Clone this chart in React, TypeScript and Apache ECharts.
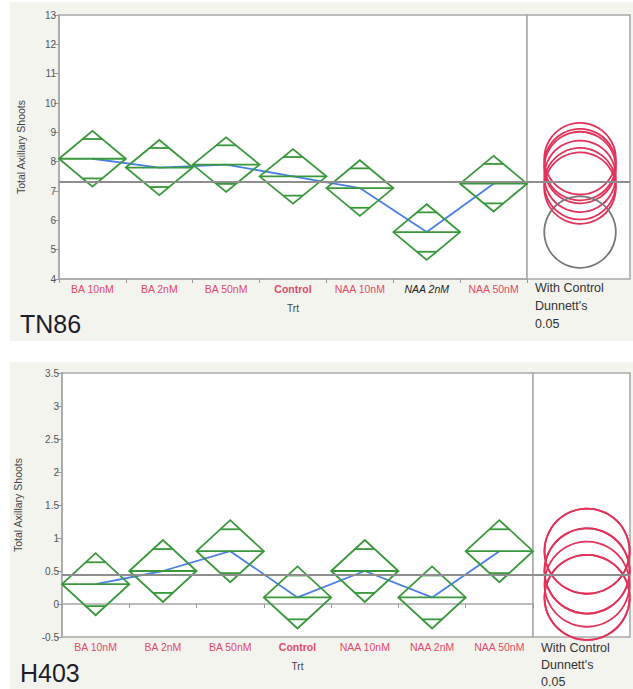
import React, { useEffect, useRef } from "react";
import * as echarts from "echarts";

const categories = ["BA 10nM", "BA 2nM", "BA 50nM", "Control", "NAA 10nM", "NAA 2nM", "NAA 50nM"];
const controlIndex = 3;

const tn86Means = [8.1, 7.8, 7.9, 7.5, 7.1, 5.6, 7.25];
const tn86CI = [0.95, 0.94, 0.93, 0.93, 0.95, 0.95, 0.95];
const tn86GrandMean = 7.32;
const tn86CircleRadius = 1.22;
const tn86Different = [false, false, false, false, false, true, false];
const tn86YMin = 4;
const tn86YMax = 13;
const tn86YInterval = 1;

const h403Means = [0.3, 0.5, 0.8, 0.1, 0.5, 0.1, 0.8];
const h403CI = [0.47, 0.47, 0.47, 0.47, 0.47, 0.47, 0.47];
const h403GrandMean = 0.44;
const h403CircleRadius = 0.645;
const h403Different = [false, false, false, false, false, false, false];
const h403YMin = -0.5;
const h403YMax = 3.5;
const h403YInterval = 0.5;

const GREEN = "#38983a";
const BLUE = "#4a7fe6";
const GRAY_LINE = "#8e8e8e";
const RED = "#e2325a";
const RED_TXT = "#e24a6c";
const AXIS = "#a8a8a8";
const FONT = "'Liberation Sans', Arial, sans-serif";

function diamondRender(params: any, api: any) {
  const i = api.value(0);
  const m = api.value(1);
  const d = api.value(2);
  const c = api.coord([i, m]);
  const top = api.coord([i, m + d]);
  const bot = api.coord([i, m - d]);
  const hw = api.size([1, 0])[0] / 2;
  const o = d / Math.SQRT2;
  const up = api.coord([i, m + o])[1];
  const dn = api.coord([i, m - o])[1];
  const ow = hw * (1 - 1 / Math.SQRT2);
  const st = { fill: "none", stroke: GREEN, lineWidth: 1.8 };
  return {
    type: "group",
    children: [
      {
        type: "polygon",
        shape: { points: [[c[0] - hw, c[1]], [c[0], top[1]], [c[0] + hw, c[1]], [c[0], bot[1]]] },
        style: st,
      },
      { type: "line", shape: { x1: c[0] - hw, y1: c[1], x2: c[0] + hw, y2: c[1] }, style: st },
      { type: "line", shape: { x1: c[0] - ow, y1: up, x2: c[0] + ow, y2: up }, style: st },
      { type: "line", shape: { x1: c[0] - ow, y1: dn, x2: c[0] + ow, y2: dn }, style: st },
    ],
  };
}

function circleRender(params: any, api: any) {
  const c = api.coord([api.value(0), api.value(1)]);
  const r = api.size([0, api.value(2)])[1];
  return {
    type: "circle",
    shape: { cx: c[0], cy: c[1], r },
    style: { fill: "none", stroke: api.value(3) ? "#777777" : RED, lineWidth: 1.8 },
  };
}

function labelFormatter(diff: boolean[]) {
  return (v: string, idx: number) =>
    idx === controlIndex ? `{b|${v}}` : diff[idx] ? `{i|${v}}` : `{n|${v}}`;
}

const labelRich = {
  n: { color: RED_TXT, fontSize: 10.5, fontFamily: FONT },
  b: { color: RED_TXT, fontSize: 10.5, fontWeight: "bold", fontFamily: FONT },
  i: { color: "#222", fontSize: 10.5, fontStyle: "italic", fontFamily: FONT },
};

function catAxis(gridIndex: number, diff: boolean[]) {
  return {
    type: "category",
    gridIndex,
    data: categories,
    axisLine: { lineStyle: { color: AXIS, width: 1.5 } },
    axisTick: { show: true, length: 4, lineStyle: { color: "#999" } },
    axisLabel: { formatter: labelFormatter(diff), rich: labelRich, margin: 4, interval: 0 },
    name: "Trt",
    nameLocation: "middle",
    nameGap: 24,
    nameTextStyle: { color: "#444", fontSize: 10, fontFamily: FONT },
  };
}

function valAxis(gridIndex: number, min: number, max: number, interval: number, nameGap: number) {
  return {
    type: "value",
    gridIndex,
    min,
    max,
    interval,
    splitLine: { show: false },
    axisLine: { show: true, lineStyle: { color: AXIS, width: 1.5 } },
    axisTick: { show: true, length: 5, lineStyle: { color: "#999" } },
    axisLabel: { color: "#555", fontSize: 10, margin: 3, fontFamily: FONT },
    name: "Total Axillary Shoots",
    nameLocation: "middle",
    nameGap,
    nameTextStyle: { color: "#444", fontSize: 10.5, fontFamily: FONT },
  };
}

function hiddenVal(gridIndex: number, min: number, max: number) {
  return { type: "value", gridIndex, min, max, show: false };
}

function meanLine(v: number) {
  return {
    silent: true,
    symbol: "none",
    label: { show: false },
    lineStyle: { color: GRAY_LINE, width: 1.8, type: "solid" },
    data: [{ yAxis: v }],
  };
}

export default function App() {
  const ref = useRef<HTMLDivElement>(null);
  useEffect(() => {
    if (!ref.current) return;
    const chart = echarts.init(ref.current, null, { renderer: "svg" });
    const gridStyle = { show: true, backgroundColor: "#ffffff", borderColor: AXIS, borderWidth: 1.5 };
    const option: any = {
      animation: false,
      textStyle: { fontFamily: FONT },
      grid: [
        { left: 59, top: 15, width: 468, height: 264, ...gridStyle },
        { left: 527, top: 15, right: 3, height: 264, ...gridStyle },
        { left: 62, top: 373, width: 471, height: 264, ...gridStyle },
        { left: 533, top: 373, right: 3, height: 264, ...gridStyle },
      ],
      xAxis: [
        catAxis(0, tn86Different),
        hiddenVal(1, 0, 1),
        catAxis(2, h403Different),
        hiddenVal(3, 0, 1),
      ],
      yAxis: [
        valAxis(0, tn86YMin, tn86YMax, tn86YInterval, 33),
        hiddenVal(1, tn86YMin, tn86YMax),
        valAxis(2, h403YMin, h403YMax, h403YInterval, 39),
        hiddenVal(3, h403YMin, h403YMax),
      ],
      graphic: [
        { type: "rect", z: -10, shape: { x: 10, y: 2, width: 623, height: 339 }, style: { fill: "#f4f4ef" } },
        { type: "rect", z: -10, shape: { x: 10, y: 362, width: 623, height: 327 }, style: { fill: "#f4f4ef" } },
        { type: "text", z: 10, style: { text: "TN86", x: 20, y: 324, fill: "#1d1d2b", fontSize: 25, fontFamily: FONT, verticalAlign: "middle" } },
        { type: "text", z: 10, style: { text: "H403", x: 20, y: 673, fill: "#1d1d2b", fontSize: 25, fontFamily: FONT, verticalAlign: "middle" } },
        { type: "text", z: 10, style: { text: "With Control\nDunnett's\n0.05", x: 535, y: 279, fill: "#333", fontSize: 12.5, lineHeight: 18, fontFamily: FONT, verticalAlign: "top" } },
        { type: "text", z: 10, style: { text: "With Control\nDunnett's\n0.05", x: 541, y: 639, fill: "#333", fontSize: 12.5, lineHeight: 17, fontFamily: FONT, verticalAlign: "top" } },
      ],
      series: [
        {
          type: "custom",
          xAxisIndex: 0,
          yAxisIndex: 0,
          renderItem: diamondRender,
          encode: { x: 0, y: 1 },
          data: tn86Means.map((m, i) => [i, m, tn86CI[i]]),
          z: 3,
        },
        {
          type: "line",
          xAxisIndex: 0,
          yAxisIndex: 0,
          data: tn86Means,
          symbol: "none",
          lineStyle: { color: BLUE, width: 1.8 },
          markLine: meanLine(tn86GrandMean),
          z: 2,
        },
        {
          type: "custom",
          xAxisIndex: 1,
          yAxisIndex: 1,
          renderItem: circleRender,
          encode: { x: 0, y: 1 },
          data: tn86Means.map((m, i) => [0.515, m, tn86CircleRadius, tn86Different[i] ? 1 : 0]),
        },
        {
          type: "line",
          xAxisIndex: 1,
          yAxisIndex: 1,
          data: [],
          markLine: meanLine(tn86GrandMean),
        },
        {
          type: "custom",
          xAxisIndex: 2,
          yAxisIndex: 2,
          renderItem: diamondRender,
          encode: { x: 0, y: 1 },
          data: h403Means.map((m, i) => [i, m, h403CI[i]]),
          z: 3,
        },
        {
          type: "line",
          xAxisIndex: 2,
          yAxisIndex: 2,
          data: h403Means,
          symbol: "none",
          lineStyle: { color: BLUE, width: 1.8 },
          markLine: meanLine(h403GrandMean),
          z: 2,
        },
        {
          type: "custom",
          xAxisIndex: 3,
          yAxisIndex: 3,
          renderItem: circleRender,
          encode: { x: 0, y: 1 },
          data: h403Means.map((m, i) => [0.557, m, h403CircleRadius, h403Different[i] ? 1 : 0]),
        },
        {
          type: "line",
          xAxisIndex: 3,
          yAxisIndex: 3,
          data: [],
          markLine: meanLine(h403GrandMean),
        },
      ],
    };
    chart.setOption(option);
    return () => chart.dispose();
  }, []);
  return (
    <div
      ref={ref}
      style={{ position: "fixed", left: 0, top: 0, width: 633, height: 689, background: "#ffffff" }}
    />
  );
}
